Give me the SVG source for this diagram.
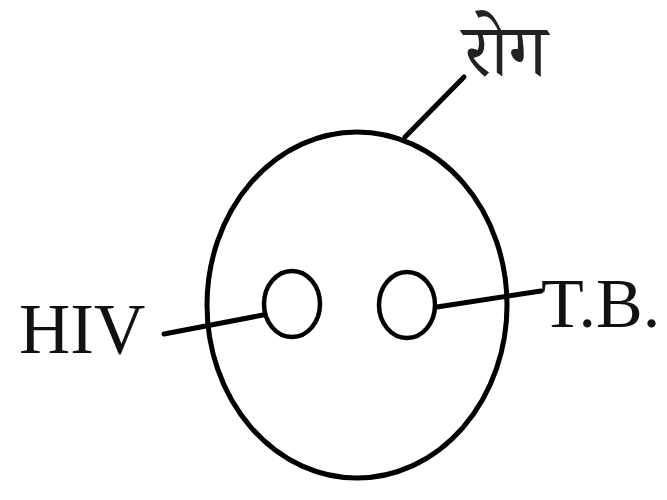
<svg xmlns="http://www.w3.org/2000/svg" width="667" height="500" viewBox="0 0 667 500">
<style>
.ln{stroke:#000;stroke-width:5;fill:none;stroke-linecap:round}
.sm{stroke:#000;stroke-width:4.5;fill:none}
.lab{font-family:"Liberation Serif","Times New Roman",serif;fill:#111}
.dev{font-family:"Noto Serif Devanagari","Noto Sans Devanagari","Lohit Devanagari","FreeSerif","Noto Sans",serif;fill:#222}
</style>
<rect width="667" height="500" fill="#fff"/>
<g id="connectors">
<line class="ln" x1="405" y1="137" x2="464" y2="77"/>
<line class="ln" x1="164" y1="334" x2="263" y2="315"/>
<line class="ln" x1="437" y1="307" x2="541" y2="291"/>
</g>
<g id="cell">
<ellipse class="ln" cx="357" cy="305" rx="150" ry="173"/>
</g>
<g id="hiv-body">
<ellipse class="sm" cx="292" cy="304" rx="28" ry="33"/>
</g>
<g id="tb-body">
<ellipse class="sm" cx="407" cy="305" rx="28" ry="33"/>
</g>
<g id="label-rog">
<text class="dev" x="463" y="76" font-size="74" textLength="84" lengthAdjust="spacingAndGlyphs">रोग</text>
</g>
<g id="label-hiv">
<text class="lab" x="19" y="353" font-size="71">HIV</text>
</g>
<g id="label-tb">
<text class="lab" x="541" y="327" font-size="70">T.B.</text>
</g>
</svg>
